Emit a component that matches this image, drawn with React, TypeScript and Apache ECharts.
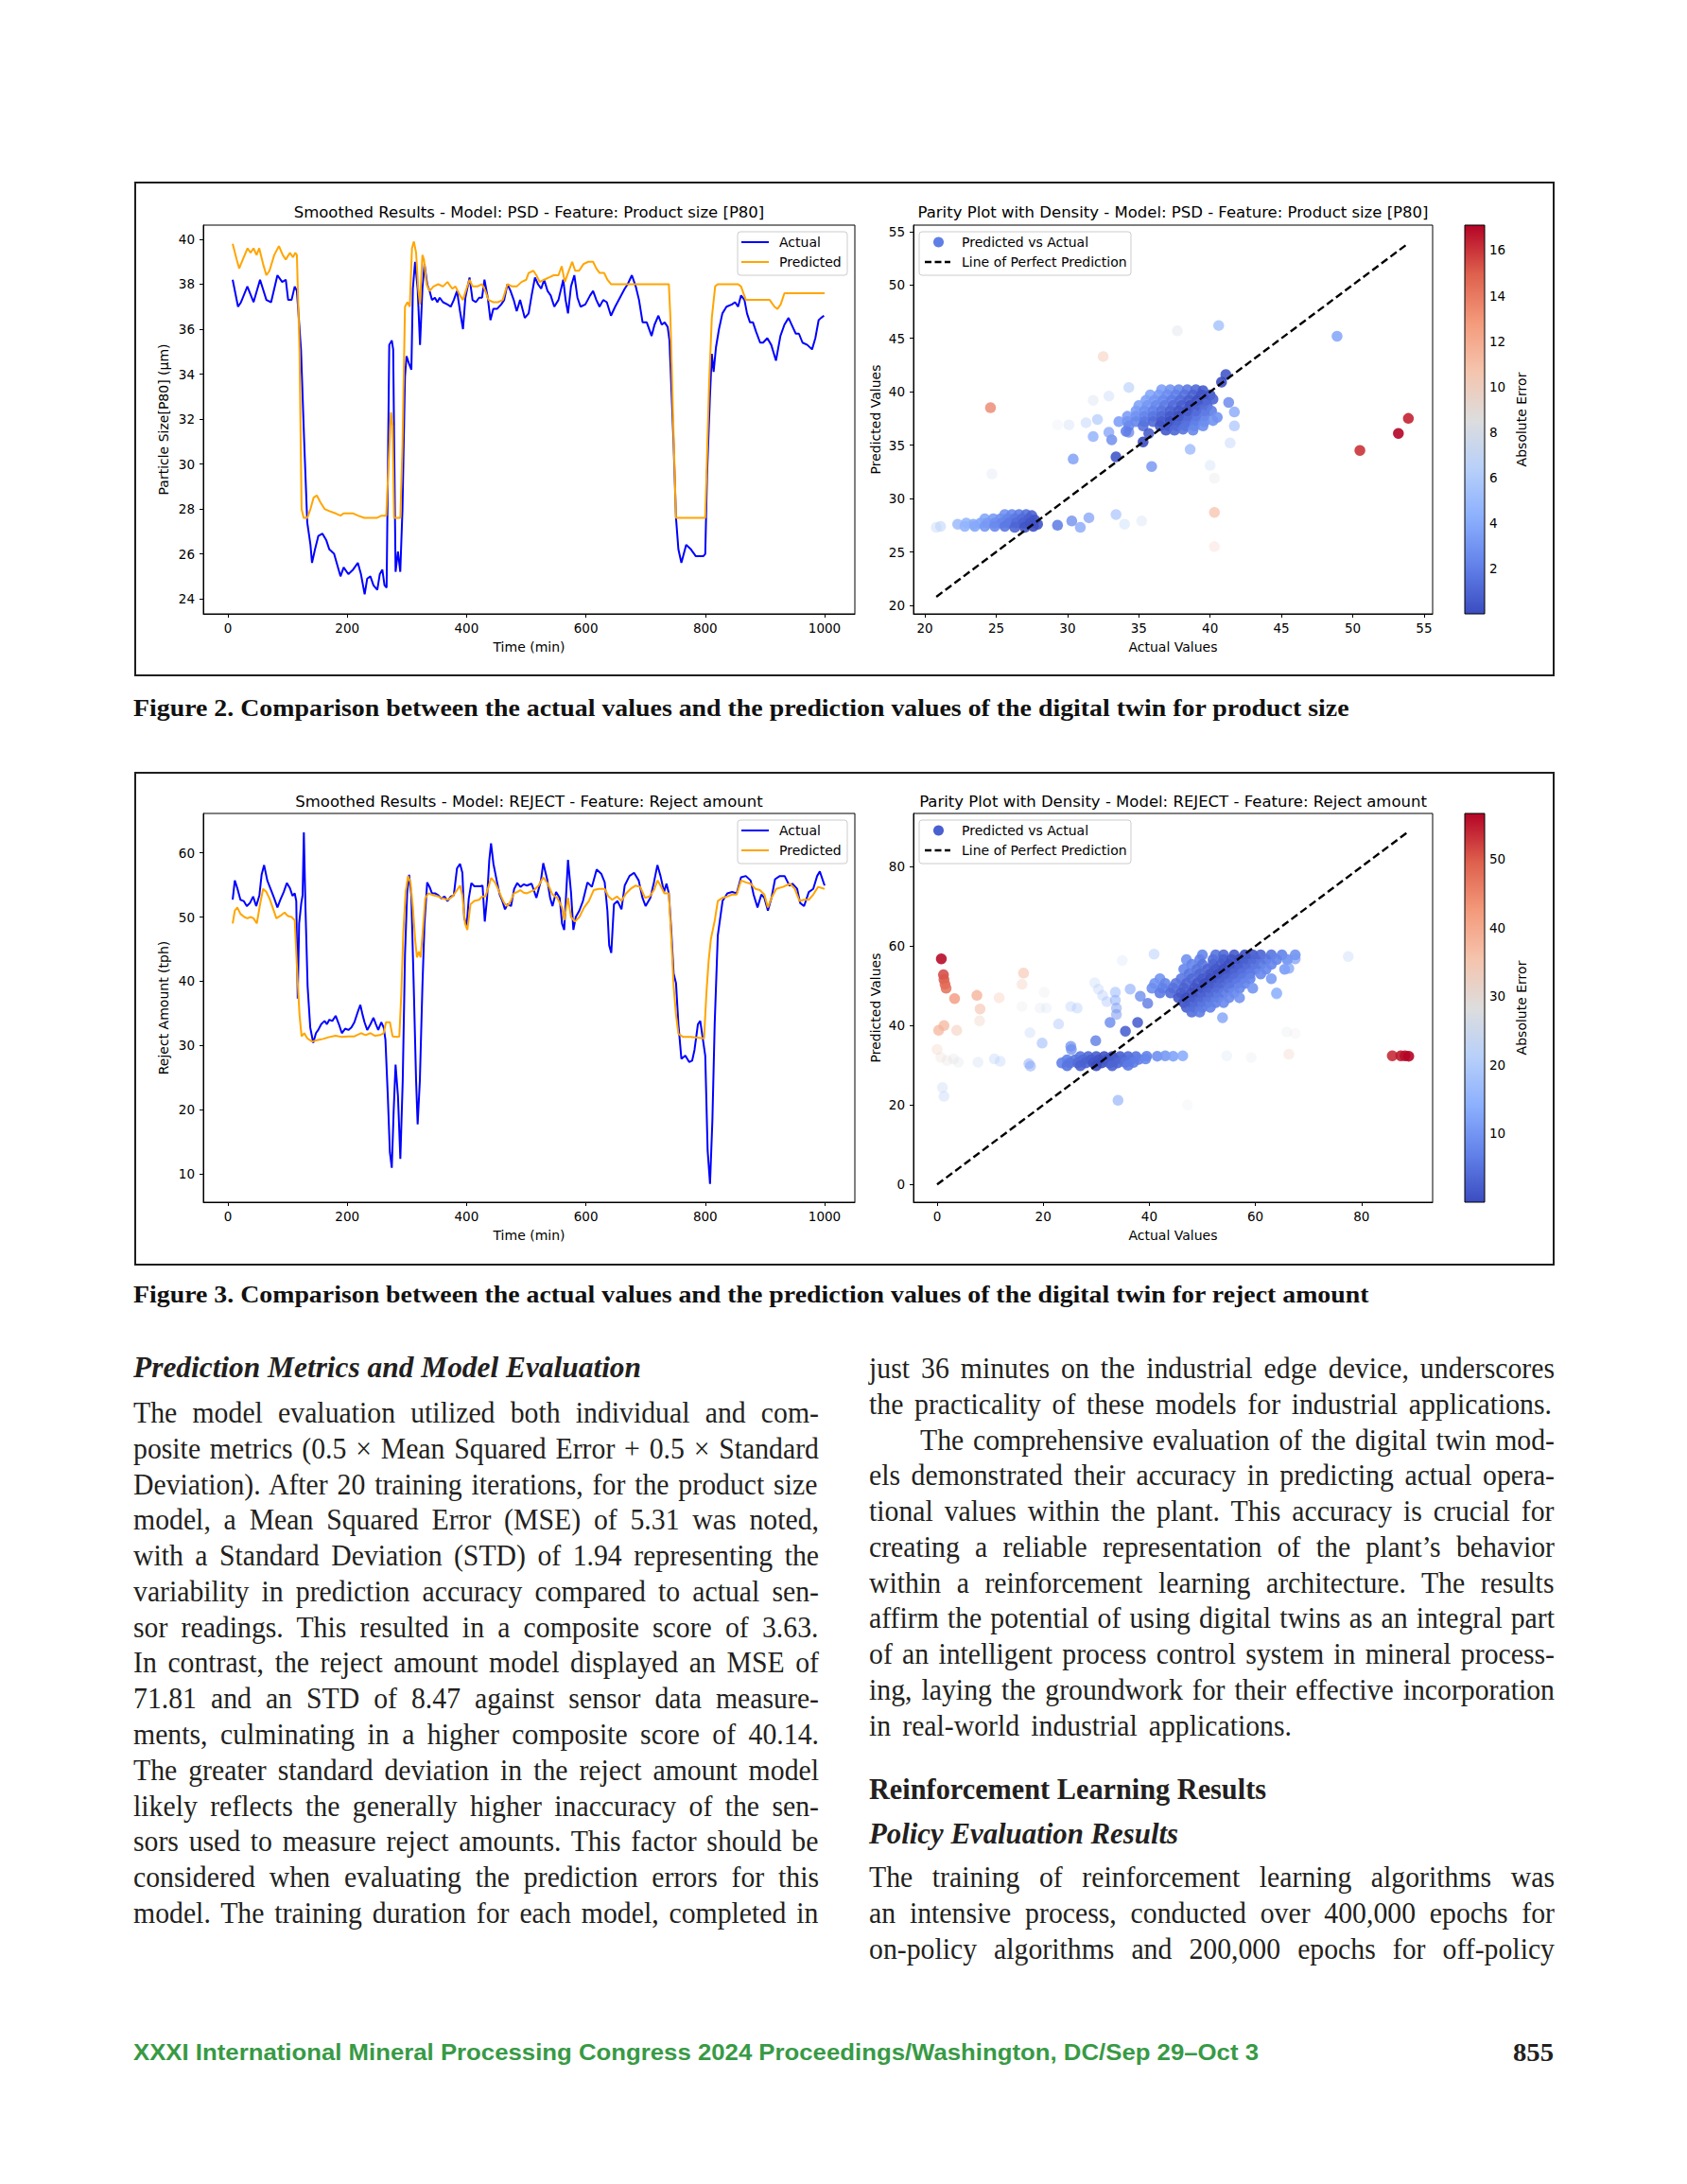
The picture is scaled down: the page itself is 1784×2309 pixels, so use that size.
import React, { useEffect, useRef } from 'react';
import * as echarts from 'echarts';

const FONT = 'DejaVu Sans';
const SERIF = '"Liberation Serif", "DejaVu Serif", serif';
const SANS = '"Liberation Sans", Arimo, sans-serif';
const COOLWARM = ['#3b4cc0', '#6282ea', '#8db0fe', '#b8d0f9', '#dddddd', '#f5c4ad', '#f49a7b', '#de604d', '#b40426'];

// ---------- tick labels ----------
const timeTicks = [0, 200, 400, 600, 800, 1000];
const psdYTicks = [24, 26, 28, 30, 32, 34, 36, 38, 40];
const psdParityTicks = [20, 25, 30, 35, 40, 45, 50, 55];
const psdErrTicks = [2, 4, 6, 8, 10, 12, 14, 16];
const rejectYTicks = [10, 20, 30, 40, 50, 60];
const rejectParityTicks = [0, 20, 40, 60, 80];
const rejectErrTicks = [10, 20, 30, 40, 50];

// ---------- Figure 2: product size (time, value) ----------
const psdActual = [
  [8, 38.2], [17, 37.0], [22, 37.2], [32.6, 37.9], [43, 37.2], [53.9, 38.2], [64.5, 37.3], [72.4, 37.2], [83, 38.4], [91, 38.1],
  [97, 38.2], [101, 37.3], [106.7, 37.3], [112, 37.9], [115.6, 37.7], [122.5, 35.1], [128, 30.9], [133, 27.4], [138.4, 26.4], [141, 25.6],
  [146, 26.2], [151.6, 26.8], [158.5, 26.9], [165, 26.6], [170, 26.2], [178, 26.0], [183.4, 25.5], [188.7, 25.0], [194, 25.4], [201.9, 25.1],
  [209.8, 25.3], [217.8, 25.6], [223, 25.1], [229.2, 24.2], [233.5, 24.9], [238.8, 25.0], [244, 24.6], [250.4, 24.4], [254.6, 25.1], [258.8, 25.3],
  [262.5, 24.6], [266, 24.5], [270.4, 35.3], [274.7, 35.5], [277, 35.1], [281, 25.2], [285, 26.1], [288.9, 25.2], [292.6, 28.0], [296.8, 33.9],
  [299.4, 34.8], [303, 34.5], [307.5, 34.2], [310, 37.8], [313.7, 39.0], [318, 37.8], [322, 35.3], [326, 37.8], [329.5, 38.9], [334, 38.0],
  [338, 37.7], [342, 37.3], [347, 37.4], [351, 37.2], [355, 37.4], [360.5, 37.2], [368, 37.1], [373.5, 37.0], [378.6, 37.3], [384, 37.7],
  [389, 36.8], [394, 36.0], [398, 37.4], [405, 38.3], [410, 37.3], [415.5, 37.2], [421, 37.4], [426, 37.4], [430, 38.2], [435.5, 37.4],
  [440, 36.4], [444.8, 36.9], [451, 36.9], [458, 37.1], [463, 37.3], [468.5, 38.0], [473.7, 37.7], [479, 37.3], [484, 36.8], [489.7, 37.3],
  [497.5, 36.5], [504, 36.7], [509, 37.5], [514.6, 38.3], [519.8, 38.0], [525, 37.8], [530, 38.2], [535.7, 37.7], [541, 37.5], [547, 37.0],
  [554, 37.3], [562, 38.2], [566, 37.3], [570, 36.7], [575, 37.9], [580.6, 38.4], [585.8, 37.4], [591, 37.0], [599, 37.1], [607, 37.5],
  [612, 37.7], [617.5, 37.3], [622.8, 37.0], [629, 37.3], [635, 37.2], [642, 36.6], [649, 37.0], [657, 37.4], [665, 37.8], [670, 38.0],
  [677, 38.4], [683.5, 37.9], [689, 37.3], [695, 36.3], [702, 36.3], [710, 35.7], [715, 36.2], [721.5, 36.6], [727, 36.2], [732, 36.3],
  [737, 36.1], [740, 35.5], [747, 30.9], [751, 27.6], [755, 26.2], [760, 25.6], [768, 26.4], [776, 26.2], [784, 25.9], [792, 25.9],
  [797, 25.9], [800, 26.0], [803, 29.5], [807.6, 32.8], [811, 34.9], [814, 34.1], [818, 35.2], [823, 36.0], [828.7, 36.7], [835.6, 37.0],
  [844.6, 37.1], [850, 37.2], [855, 37.0], [860, 37.5], [865.7, 37.3], [870, 36.7], [875, 36.3], [880, 36.3], [885, 35.9], [892, 35.4],
  [897, 35.4], [904, 35.6], [910.6, 35.3], [918.5, 34.6], [926, 35.7], [932.7, 36.2], [939.6, 36.5], [946.5, 36.1], [951.7, 35.8], [957, 35.8],
  [963, 35.4], [971, 35.3], [979, 35.1], [984.5, 35.6], [990, 36.4], [994, 36.5], [999, 36.6]
];
const psdPredicted = [
  [8, 39.8], [14.7, 39.1], [18.9, 38.7], [25, 39.1], [33, 39.6], [38, 39.4], [43, 39.6], [48, 39.3], [52.5, 39.6], [59, 38.9],
  [64.5, 38.4], [69.7, 38.6], [77.7, 39.3], [85.5, 39.7], [92, 39.3], [97, 39.1], [104, 39.4], [109, 39.2], [113, 39.4], [115.6, 39.3],
  [120, 35.1], [123.5, 28.0], [127, 27.6], [133, 27.6], [138.4, 28.0], [143.6, 28.5], [149, 28.6], [155, 28.3], [162, 28.0], [170, 27.9],
  [180.6, 27.8], [188.7, 27.7], [194, 27.8], [202, 27.8], [210, 27.8], [218, 27.7], [228.5, 27.6], [239, 27.6], [249.5, 27.6], [257.4, 27.7],
  [265.4, 27.7], [269.6, 30.2], [273.3, 32.3], [276, 31.7], [278.6, 27.6], [284, 27.6], [289, 27.6], [292.6, 30.8], [296.8, 37.0], [301, 37.2],
  [304.8, 37.0], [308.5, 39.6], [311.7, 39.9], [315.4, 39.4], [319, 37.8], [322, 37.1], [326, 39.3], [328.6, 39.1], [333, 38.0], [338, 37.7],
  [344.5, 37.9], [352.5, 38.0], [360.5, 37.9], [368, 38.1], [376, 37.8], [381.4, 37.9], [389, 37.5], [394, 37.3], [399.8, 37.8], [405, 38.2],
  [410, 37.9], [418, 37.9], [426, 38.0], [431.5, 37.7], [436.8, 37.3], [444.8, 37.2], [452.7, 37.2], [460.6, 37.3], [468.5, 38.0], [476.4, 37.9],
  [484, 37.9], [492, 38.1], [500, 38.2], [504, 38.5], [512, 38.6], [517, 38.4], [522.5, 38.1], [530, 38.2], [538, 38.3], [546, 38.4],
  [554, 38.4], [559.4, 38.8], [564.7, 38.1], [570, 38.5], [577, 39.0], [582, 38.6], [588.5, 38.6], [596, 38.9], [604, 39.0], [612, 39.0],
  [617.5, 38.7], [623, 38.5], [630.7, 38.5], [636, 38.2], [642, 38.0], [739, 38.0], [741.6, 36.5], [746, 32.2], [751, 27.6], [800, 27.6],
  [802, 29.4], [806.5, 33.6], [811, 36.5], [816.6, 37.9], [821, 38.0], [855, 38.0], [860, 37.9], [868, 37.3], [873.6, 37.3], [908, 37.3],
  [916, 37.0], [921, 36.9], [926.4, 37.1], [932.7, 37.6], [937, 37.6], [1000, 37.6]
];

// ---------- Figure 3: reject amount (time, value) ----------
const rejectActual = [
  [8, 52.7], [11.6, 55.7], [15.8, 54.5], [21, 52.7], [26.4, 52.5], [31.7, 51.7], [37, 52.2], [42.3, 53.2], [47.5, 51.7], [52.8, 53.4],
  [56.5, 56.6], [60.7, 58.1], [66, 55.7], [72.4, 54.2], [77.7, 52.9], [83, 51.5], [88, 52.7], [93.5, 53.9], [98.8, 55.3], [104, 54.5],
  [108.3, 53.3], [112, 53.7], [114.6, 52.5], [117, 37.3], [119.4, 49.0], [123, 52.2], [125.2, 53.4], [127.3, 63.2], [130, 51.5], [133.6, 39.2],
  [138, 32.8], [143, 30.4], [147.6, 31.9], [151.4, 32.4], [156.5, 33.3], [162, 33.8], [166, 33.3], [170, 34.0], [175, 33.8], [180.6, 34.6],
  [186, 33.3], [191, 31.9], [196.5, 32.6], [202, 32.4], [207, 32.8], [212, 33.6], [218, 35.3], [222, 36.3], [225.6, 34.8], [229, 33.6],
  [233.5, 32.4], [239, 33.3], [244, 34.3], [248, 33.3], [252, 32.4], [257, 33.6], [261, 32.8], [264, 30.9], [268, 22.1], [271.5, 13.3],
  [274.7, 10.9], [277.8, 19.7], [281, 27.0], [285, 22.1], [289, 12.3], [293, 24.5], [296.8, 44.1], [300.5, 53.9], [303.7, 56.6], [307.4, 53.4],
  [311.6, 38.7], [315.4, 24.5], [318, 17.7], [321.7, 24.5], [326, 39.2], [329.5, 49.0], [334, 55.4], [338, 54.7], [342, 53.7], [347, 53.7],
  [352.5, 53.4], [357.6, 52.9], [363, 53.2], [368, 52.5], [373.5, 53.2], [378.6, 53.4], [384, 57.6], [389, 58.3], [393, 56.9], [396, 50.0],
  [400, 48.5], [403.7, 52.9], [408, 55.3], [413, 54.8], [418, 54.8], [423, 54.8], [426.8, 54.9], [430.5, 49.3], [434.3, 52.9], [438, 58.8],
  [441, 61.5], [445, 58.3], [450.5, 55.7], [455.8, 53.4], [460, 52.5], [464.4, 51.2], [469, 52.0], [474.5, 51.7], [479.8, 54.4], [485, 55.3],
  [490.4, 54.7], [495.6, 55.1], [501, 54.9], [509, 55.2], [517, 53.0], [524.6, 55.7], [528.5, 58.4], [535, 55.9], [540, 53.0], [544, 51.7],
  [550, 53.9], [556, 53.0], [560, 49.0], [563.6, 48.0], [570, 58.9], [575, 53.9], [579, 48.0], [583, 50.0], [589, 51.0], [595, 52.5],
  [602.6, 55.4], [610, 54.7], [618, 57.4], [626, 56.7], [631.5, 55.4], [636, 51.0], [639, 45.6], [642.5, 44.4], [647, 52.0], [653, 52.5],
  [659.6, 51.2], [665, 54.9], [673, 56.4], [680.7, 56.9], [688.5, 55.7], [694.8, 53.0], [700, 51.7], [708, 53.0], [714, 55.4], [719.8, 58.1],
  [725, 56.4], [731, 53.9], [735, 55.2], [739, 53.7], [743, 48.0], [747, 41.2], [751, 39.7], [755, 33.3], [760, 27.9], [766.6, 28.4],
  [773, 27.4], [778, 27.6], [782, 29.3], [787.7, 33.3], [791.6, 33.8], [795.5, 31.3], [800, 28.4], [804, 13.6], [808, 8.4], [812, 18.4],
  [815.8, 33.3], [821, 47.1], [829, 52.5], [837, 53.7], [845, 53.9], [852.6, 53.7], [860, 56.2], [868, 56.4], [876, 55.7], [881, 53.5],
  [887.6, 51.5], [894, 53.5], [899, 53.0], [905, 51.0], [911, 53.0], [917, 55.9], [925, 56.4], [933, 56.4], [941, 54.9], [946, 55.2],
  [954, 54.4], [959, 52.2], [965.6, 51.7], [973.5, 53.9], [981, 54.4], [987.5, 56.4], [992, 57.1], [1000, 54.9]
];
const rejectPredicted = [
  [8, 49.0], [11.6, 51.0], [15.8, 51.5], [21, 50.5], [27.5, 50.0], [32.8, 49.8], [38, 50.0], [43, 49.8], [48.5, 49.0], [53.9, 52.0],
  [59, 54.4], [64.5, 53.9], [69.7, 52.9], [75, 51.5], [81.3, 49.8], [88, 50.2], [95, 50.7], [100, 50.2], [106.7, 50.0], [112, 49.5],
  [116, 41.7], [120, 34.8], [123.5, 31.4], [128, 31.9], [133, 31.1], [141, 30.6], [149, 30.8], [159.5, 31.0], [170, 31.3], [180.6, 31.5],
  [191, 31.3], [202, 31.4], [212, 31.4], [223, 31.9], [230.8, 31.6], [239, 31.9], [246.7, 31.5], [254.6, 31.6], [261, 31.9], [265, 33.6],
  [271.5, 33.6], [276, 31.4], [284, 31.3], [287.3, 31.4], [290.5, 37.8], [294, 47.6], [297.9, 53.9], [302, 56.4], [306, 55.4], [310, 51.5],
  [313.7, 46.6], [316.8, 43.7], [320, 44.6], [323, 43.7], [326.5, 47.6], [330.8, 52.9], [336, 53.7], [344.5, 53.4], [352.5, 53.2], [360.5, 52.9],
  [368.5, 52.7], [376.4, 53.2], [384, 54.2], [389, 54.9], [393, 53.4], [397.5, 49.0], [401.3, 48.0], [406.6, 52.0], [413, 52.5], [421, 52.7],
  [426, 53.2], [431.5, 53.2], [436.8, 54.7], [441, 56.1], [447.5, 55.4], [452.7, 54.4], [458, 53.2], [463, 52.2], [468.5, 51.7], [474, 52.5],
  [479.4, 53.7], [484.6, 53.9], [490, 54.2], [495.6, 53.8], [501, 53.7], [513, 54.2], [520.7, 54.9], [528.5, 56.2], [536, 55.2], [544, 53.5],
  [552, 53.0], [560, 51.5], [563.6, 49.5], [570, 53.0], [575, 50.0], [581.6, 49.3], [589, 50.0], [597, 51.5], [605, 52.5], [613, 54.2],
  [622, 54.4], [631.5, 54.4], [637.8, 53.2], [644, 52.7], [652, 53.2], [659.6, 52.5], [667.4, 53.7], [675, 54.4], [683, 54.9], [691, 54.7],
  [699, 53.0], [706.6, 53.2], [714, 54.2], [720, 55.7], [725, 54.9], [731.6, 53.7], [739, 53.7], [744, 45.1], [747, 39.2], [751, 34.8],
  [755, 31.8], [763, 31.3], [775, 31.3], [786, 31.2], [798, 31.1], [802, 38.2], [805.6, 43.1], [809.5, 46.6], [816, 49.5], [821, 52.5],
  [829, 53.0], [837, 53.2], [845, 53.5], [852.6, 53.5], [860, 55.7], [868, 55.4], [876, 55.2], [884, 54.4], [891.5, 54.2], [899, 53.5],
  [905, 51.5], [911, 53.0], [919, 54.4], [930.5, 54.7], [942, 55.2], [950, 54.4], [958, 52.5], [965.6, 52.7], [973.5, 52.7], [981, 53.5],
  [989, 54.7], [1000, 54.4]
];

// ---------- Parity points: [actual, predicted] (dense) and [actual, predicted, density] (sparse) ----------
const psdParityDense = [
  [36.6, 40.2], [37.2, 40.2], [37.8, 40.2], [38.4, 40.2], [39.0, 40.2], [39.5, 40.1],
  [35.8, 39.7], [36.4, 39.7], [37.0, 39.7], [37.6, 39.7], [38.2, 39.7], [38.8, 39.7], [39.4, 39.7], [40.0, 39.7],
  [35.5, 39.2], [36.1, 39.2], [36.7, 39.2], [37.3, 39.2], [37.9, 39.2], [38.5, 39.2], [39.1, 39.2], [39.7, 39.2], [40.2, 39.3],
  [35.0, 38.7], [35.6, 38.7], [36.2, 38.7], [36.8, 38.7], [37.4, 38.7], [38.0, 38.7], [38.6, 38.7], [39.2, 38.7], [39.8, 38.7],
  [34.8, 38.2], [35.4, 38.2], [36.0, 38.2], [36.6, 38.2], [37.2, 38.2], [37.8, 38.2], [38.4, 38.2], [39.0, 38.2], [39.6, 38.2], [40.1, 38.2],
  [34.2, 37.7], [34.8, 37.7], [35.4, 37.7], [36.0, 37.7], [36.6, 37.7], [37.2, 37.7], [37.8, 37.7], [38.4, 37.7], [39.0, 37.7], [39.6, 37.7],
  [33.6, 37.2], [34.2, 37.2], [34.8, 37.2], [35.4, 37.2], [36.0, 37.2], [36.6, 37.2], [37.2, 37.2], [37.8, 37.2], [38.4, 37.2], [39.0, 37.2], [39.6, 37.2], [40.2, 37.3],
  [34.3, 36.8], [35.3, 36.8], [36.5, 36.8], [37.1, 36.8], [37.7, 36.8], [38.3, 36.8], [38.9, 36.8], [39.5, 36.8],
  [34.1, 36.3], [36.9, 36.4], [37.5, 36.4], [38.1, 36.5], [38.8, 36.4],
  [25.6, 28.5], [26.1, 28.5], [26.6, 28.5], [27.1, 28.5], [27.5, 28.4],
  [24.2, 28.1], [24.8, 28.1], [25.3, 28.1], [25.8, 28.1], [26.3, 28.1], [26.8, 28.1], [27.3, 28.1], [27.7, 28.0],
  [22.3, 27.6], [22.9, 27.7], [23.4, 27.6], [23.9, 27.7], [24.4, 27.7], [24.9, 27.7], [25.4, 27.7], [25.9, 27.7], [26.4, 27.7], [26.9, 27.7], [27.4, 27.7], [27.9, 27.6],
  [22.8, 27.4], [23.5, 27.4], [24.2, 27.4], [24.9, 27.4], [25.6, 27.4], [26.3, 27.3], [27.0, 27.3], [27.6, 27.4]
];
const psdParitySparse = [
  [40.6, 46.2, 0.85], [48.9, 45.2, 0.85], [50.5, 34.5, 0.9], [53.2, 36.1, 0.9], [53.9, 37.5, 0.9], [24.6, 38.5, 0.75],
  [32.5, 43.3, 0.45], [37.7, 45.7, 0.35], [41.1, 41.6, 0.9], [24.7, 32.3, 0.25], [40.0, 33.1, 0.3], [40.3, 31.9, 0.25],
  [40.3, 28.7, 0.6], [40.3, 25.5, 0.1], [33.4, 28.5, 0.6], [34.0, 27.6, 0.35], [35.2, 27.9, 0.3], [38.6, 34.6, 0.65],
  [41.7, 38.1, 0.75], [41.7, 36.8, 0.6], [41.4, 35.2, 0.4], [30.4, 33.7, 0.8], [33.4, 33.9, 0.9], [35.9, 33.0, 0.8],
  [31.8, 35.8, 0.75], [33.1, 35.5, 0.8], [35.3, 35.3, 0.9], [35.7, 36.1, 0.85], [30.1, 36.9, 0.3], [31.3, 37.1, 0.4],
  [32.1, 37.4, 0.6], [31.8, 39.2, 0.3], [32.9, 39.6, 0.35], [34.3, 40.4, 0.6], [32.9, 36.2, 0.7], [34.3, 36.2, 0.7],
  [29.3, 27.5, 0.85], [30.3, 27.9, 0.75], [30.9, 27.3, 0.75], [31.5, 28.2, 0.7], [21.1, 27.4, 0.5], [20.8, 27.3, 0.4],
  [29.3, 36.9, 0.15], [40.8, 40.9, 0.9], [41.3, 39.0, 0.8], [40.5, 37.6, 0.9]
];
const rejectParityDense = [
  [27, 32.2], [28.5, 32.2], [30, 32.2], [31.5, 32.2], [33, 32.2], [34.5, 32.2], [36, 32.2], [37.5, 32.2], [39.5, 32.3], [41.5, 32.3], [43, 32.4], [44.5, 32.3], [46.3, 32.4],
  [24.5, 31.4], [26, 31.4], [27.5, 31.4], [29, 31.4], [30.5, 31.4], [32, 31.4], [33.5, 31.4], [35, 31.4], [36.5, 31.4], [38, 31.5], [39.3, 31.6],
  [23.5, 30.6], [25, 30.6], [26.5, 30.6], [28, 30.6], [29.5, 30.6], [31, 30.6], [32.5, 30.6], [34, 30.6], [35.5, 30.7], [37, 30.7],
  [24.5, 29.9], [27, 29.9], [30, 29.9], [33, 29.9], [36, 30.0],
  [50, 57.8], [52.5, 57.8], [54, 57.8], [56, 57.8], [58, 57.8], [59.5, 57.8], [61, 57.8], [63, 57.8], [65, 57.8], [67.5, 57.8],
  [47, 56.6], [49.5, 56.6], [52, 56.6], [54, 56.6], [55.5, 56.6], [57, 56.6], [58.5, 56.6], [60, 56.6], [62, 56.6], [64, 56.6], [66, 56.6],
  [48, 55.4], [50, 55.4], [52, 55.4], [53.5, 55.4], [55, 55.4], [56.5, 55.4], [58, 55.4], [59.5, 55.4], [61, 55.4], [63, 55.4],
  [46.5, 54.2], [49, 54.2], [51, 54.2], [52.5, 54.2], [54, 54.2], [55.5, 54.2], [57, 54.2], [58.5, 54.2], [60, 54.2], [62, 54.2], [65.5, 54.2],
  [47.5, 53.0], [49.5, 53.0], [51.5, 53.0], [53, 53.0], [54.5, 53.0], [56, 53.0], [57.5, 53.0], [59, 53.0], [61, 53.0],
  [42, 51.8], [46, 51.8], [48, 51.8], [50, 51.8], [51.5, 51.8], [53, 51.8], [54.5, 51.8], [56, 51.8], [57.5, 51.8], [59, 51.8], [63, 51.8],
  [41, 50.6], [43, 50.6], [45, 50.6], [47, 50.6], [49, 50.6], [50.5, 50.6], [52, 50.6], [53.5, 50.6], [55, 50.6], [56.5, 50.6], [58, 50.6],
  [40.5, 49.4], [42.5, 49.4], [44.5, 49.4], [46.5, 49.4], [48.5, 49.4], [50, 49.4], [51.5, 49.4], [53, 49.4], [55, 49.4], [57, 49.4], [59.5, 49.4],
  [42, 48.2], [44, 48.2], [46, 48.2], [48, 48.2], [49.5, 48.2], [51, 48.2], [52.5, 48.2], [54, 48.2], [56, 48.2], [64, 48.2],
  [45.5, 47.0], [47, 47.0], [48.5, 47.0], [50, 47.0], [51.5, 47.0], [53, 47.0], [55, 47.0], [57, 47.0],
  [46.5, 45.8], [48, 45.8], [49.5, 45.8], [51, 45.8], [52.5, 45.8], [54, 45.8],
  [47, 44.6], [48.5, 44.6], [50, 44.6], [51.5, 44.6], [48, 43.4], [49.5, 43.4]
];
const rejectParitySparse = [
  [0.8, 56.8, 0.9], [1.2, 52.8, 0.85], [1.3, 51.6, 0.85], [1.5, 50.4, 0.85], [1.7, 49.4, 0.85], [3.3, 46.8, 0.75], [7.5, 47.6, 0.7],
  [8.1, 44.2, 0.6], [8.0, 41.2, 0.35], [11.7, 47.0, 0.35], [16.3, 53.2, 0.55], [16.0, 50.4, 0.35], [16.0, 44.8, 0.2], [20.2, 48.4, 0.2],
  [19.4, 44.4, 0.2], [20.6, 44.4, 0.2], [0.3, 38.8, 0.7], [1.3, 40.0, 0.7], [3.7, 38.8, 0.5], [0.0, 34.0, 0.3], [0.7, 32.0, 0.25],
  [1.9, 31.2, 0.25], [3.1, 31.6, 0.25], [4.0, 30.8, 0.25], [1.0, 24.4, 0.35], [1.3, 22.2, 0.35], [7.7, 30.8, 0.3], [10.8, 31.6, 0.35],
  [11.9, 31.0, 0.3], [17.3, 30.4, 0.5], [17.6, 29.8, 0.5], [17.5, 38.2, 0.3], [19.8, 35.6, 0.55], [22.9, 40.4, 0.4], [25.2, 44.8, 0.35],
  [26.4, 44.4, 0.35], [25.2, 34.8, 0.75], [25.3, 34.0, 0.75], [29.9, 36.2, 0.8], [29.7, 50.8, 0.3], [30.4, 49.2, 0.3], [31.2, 47.6, 0.3],
  [32.0, 46.0, 0.3], [33.6, 48.4, 0.5], [33.6, 46.4, 0.5], [33.8, 44.4, 0.5], [33.8, 42.8, 0.5], [32.6, 40.8, 0.8], [34.9, 56.4, 0.2],
  [35.5, 38.6, 0.9], [37.8, 40.8, 0.9], [36.4, 49.2, 0.6], [38.3, 47.4, 0.8], [40.9, 58.0, 0.4], [39.7, 45.6, 0.8], [34.1, 21.2, 0.6],
  [47.2, 20.0, 0.15], [53.8, 42.0, 0.8], [54.6, 32.4, 0.2], [59.2, 32.0, 0.2], [66.3, 32.8, 0.3], [65.9, 38.4, 0.2], [67.5, 38.0, 0.15],
  [77.5, 57.4, 0.3], [85.8, 32.4, 0.9], [87.4, 32.4, 0.9], [88.2, 32.4, 0.9], [88.9, 32.3, 0.9], [64.0, 48.0, 0.75], [67.5, 56.8, 0.7],
  [66.3, 54.4, 0.75]
];

// ---------- chart builder ----------
const axisBase = {
  type: 'value',
  splitLine: { show: false },
  axisLine: { show: true, onZero: false, lineStyle: { color: '#000', width: 1 } },
  axisTick: { show: true, length: 4, lineStyle: { color: '#000', width: 1 } },
  nameTextStyle: { color: '#000', fontSize: 14, fontFamily: FONT },
  nameLocation: 'middle',
  nameMoveOverlap: false,
};

function ticksAxis(extra: any, ticks: number[], margin: number) {
  return {
    ...axisBase,
    ...extra,
    axisTick: { ...axisBase.axisTick, customValues: ticks },
    axisLabel: {
      customValues: ticks, color: '#000', fontSize: 13.5, fontFamily: FONT, margin,
      formatter: (v: number) => String(v),
    },
  };
}

function buildOption(f: any) {
  const T = f.gridTop;
  const g1 = { left: 74, top: T, width: 689, height: 411 };
  const g2 = { left: 825, top: T, width: 549, height: 411 };
  const g3 = { left: 1408, top: T, width: 21, height: 411 };
  const pts = [...f.dense.map((p: number[]) => [p[0], p[1], 0.9]), ...f.sparse];
  const scatter = pts.map((p: number[]) => ({ value: [p[0], p[1], Math.abs(p[1] - p[0])], itemStyle: { opacity: p[2] } }));
  const maxErr = Math.max(...scatter.map((d: any) => d.value[2]));
  const acts = pts.map((p: number[]) => p[0]);
  const mn = Math.min(...acts);
  const mx = Math.max(...acts);
  const txt = (text: string, x: number, y: number, size: number, extra: any = {}) => ({
    type: 'text', x, y, z: 100, ...extra,
    style: { text, fill: '#000', fontSize: size, fontFamily: FONT, align: extra.align || 'center', verticalAlign: 'middle' },
  });
  const r1 = T + 18;
  const r2 = T + 39;
  return {
    animation: false,
    backgroundColor: '#fff',
    grid: [
      { ...g1, show: true, borderColor: '#000', borderWidth: 1, outerBoundsMode: 'none' },
      { ...g2, show: true, borderColor: '#000', borderWidth: 1, outerBoundsMode: 'none' },
      { ...g3, show: false, outerBoundsMode: 'none' },
    ],
    xAxis: [
      ticksAxis({ gridIndex: 0, min: -41.2, max: 1050.7, name: 'Time (min)', nameGap: 28 }, timeTicks, 8),
      ticksAxis({ gridIndex: 1, min: f.pMin, max: f.pMax, name: 'Actual Values', nameGap: 28 }, f.pTicks, 8),
      { gridIndex: 2, type: 'value', min: 0, max: 1, show: false },
    ],
    yAxis: [
      ticksAxis({ gridIndex: 0, min: f.yMin, max: f.yMax, name: f.yName, nameGap: 35 }, f.yTicks, 9),
      ticksAxis({ gridIndex: 1, min: f.pMin, max: f.pMax, name: 'Predicted Values', nameGap: 33 }, f.pTicks, 9),
      {
        ...ticksAxis({ gridIndex: 2, min: 0, max: maxErr, position: 'right' }, f.errTicks, 5),
        axisLine: { show: false },
      },
    ],
    visualMap: [{
      type: 'continuous', show: false, seriesIndex: 2, dimension: 2, min: 0, max: maxErr,
      inRange: { color: COOLWARM },
    }],
    series: [
      {
        name: 'Actual', type: 'line', xAxisIndex: 0, yAxisIndex: 0, data: f.actual, symbol: 'none', showSymbol: false,
        lineStyle: { color: '#0000ff', width: 2 }, itemStyle: { color: '#0000ff' }, z: 2, silent: true,
      },
      {
        name: 'Predicted', type: 'line', xAxisIndex: 0, yAxisIndex: 0, data: f.predicted, symbol: 'none', showSymbol: false,
        lineStyle: { color: '#ffa500', width: 2 }, itemStyle: { color: '#ffa500' }, z: 3, silent: true,
      },
      {
        name: 'Predicted vs Actual', type: 'scatter', xAxisIndex: 1, yAxisIndex: 1, data: scatter, symbol: 'circle',
        symbolSize: 11.5, z: 3, silent: true,
      },
      {
        name: 'Line of Perfect Prediction', type: 'line', xAxisIndex: 1, yAxisIndex: 1, data: [[mn, mn], [mx, mx]],
        symbol: 'none', showSymbol: false, lineStyle: { color: '#000', width: 2.4, type: [8, 4] }, z: 5, silent: true,
      },
    ],
    graphic: [
      txt(f.lineTitle, g1.left + g1.width / 2, f.titleY, 16.5),
      txt(f.parityTitle, g2.left + g2.width / 2, f.titleY, 16.5),
      // line legend
      { type: 'rect', z: 100, shape: { x: 639, y: T + 7, width: 116, height: 46, r: 3 }, style: { fill: 'rgba(255,255,255,0.8)', stroke: '#cccccc', lineWidth: 1 } },
      { type: 'line', z: 101, shape: { x1: 643, y1: r1, x2: 672, y2: r1 }, style: { stroke: '#0000ff', lineWidth: 2 } },
      txt('Actual', 683, r1, 14, { align: 'left' }),
      { type: 'line', z: 101, shape: { x1: 643, y1: r2, x2: 672, y2: r2 }, style: { stroke: '#ffa500', lineWidth: 2 } },
      txt('Predicted', 683, r2, 14, { align: 'left' }),
      // parity legend
      { type: 'rect', z: 100, shape: { x: 831, y: T + 7, width: 224, height: 46, r: 3 }, style: { fill: 'rgba(255,255,255,0.8)', stroke: '#cccccc', lineWidth: 1 } },
      { type: 'circle', z: 101, shape: { cx: 851.5, cy: r1, r: 5.5 }, style: { fill: f.dotColor } },
      txt('Predicted vs Actual', 876, r1, 14, { align: 'left' }),
      { type: 'line', z: 101, shape: { x1: 837, y1: r2, x2: 864, y2: r2 }, style: { stroke: '#000', lineWidth: 2.4, lineDash: [7, 3.5] } },
      txt('Line of Perfect Prediction', 876, r2, 14, { align: 'left' }),
      // colorbar
      {
        type: 'rect', z: 50, shape: { x: g3.left, y: T, width: g3.width, height: g3.height },
        style: {
          fill: new echarts.graphic.LinearGradient(0, 1, 0, 0, COOLWARM.map((c, i) => ({ offset: i / (COOLWARM.length - 1), color: c }))),
          stroke: '#000', lineWidth: 1,
        },
      },
      txt('Absolute Error', 1467.6, T + 205.5, 14, { rotation: Math.PI / 2 }),
    ],
  };
}

const fig2Option = buildOption({
  gridTop: 47, titleY: 33,
  lineTitle: 'Smoothed Results - Model: PSD - Feature: Product size [P80]',
  parityTitle: 'Parity Plot with Density - Model: PSD - Feature: Product size [P80]',
  yName: 'Particle Size[P80] (μm)', yMin: 23.33, yMax: 40.63, yTicks: psdYTicks,
  actual: psdActual, predicted: psdPredicted,
  dense: psdParityDense, sparse: psdParitySparse,
  pMin: 19.2, pMax: 55.6, pTicks: psdParityTicks, errTicks: psdErrTicks, dotColor: '#5f7fe6',
});
const fig3Option = buildOption({
  gridTop: 45, titleY: 32,
  lineTitle: 'Smoothed Results - Model: REJECT - Feature: Reject amount',
  parityTitle: 'Parity Plot with Density - Model: REJECT - Feature: Reject amount',
  yName: 'Reject Amount (tph)', yMin: 5.55, yMax: 66.15, yTicks: rejectYTicks,
  actual: rejectActual, predicted: rejectPredicted,
  dense: rejectParityDense, sparse: rejectParitySparse,
  pMin: -4.45, pMax: 93.4, pTicks: rejectParityTicks, errTicks: rejectErrTicks, dotColor: '#4a5fd0',
});

function FigureChart({ option, left, top, width, height }: any) {
  const ref = useRef<HTMLDivElement>(null);
  useEffect(() => {
    const chart = echarts.init(ref.current!, null, { renderer: 'svg' });
    chart.setOption(option);
    return () => chart.dispose();
  }, []);
  return <div ref={ref} style={{ position: 'absolute', left, top, width, height }} />;
}

// ---------- text ----------
const measureCtx = document.createElement('canvas').getContext('2d')!;

function TextLine({ text, x, base, width, size, family = SERIF, weight = 'normal', italic = false, color = '#231f20', mode = 'justify', sx = 0.96 }: any) {
  const font = `${italic ? 'italic ' : ''}${weight} ${size}px ${family}`;
  measureCtx.font = font;
  const m = measureCtx.measureText(text);
  const w = m.width || 1;
  const A = (m as any).fontBoundingBoxAscent ?? size * 0.891;
  const D = (m as any).fontBoundingBoxDescent ?? size * 0.216;
  const L = size;
  const top = base - (L + A - D) / 2;
  let scale = 1;
  let ws = 0;
  if (mode === 'fit') scale = width / w;
  else {
    const spaces = (text.match(/ /g) || []).length;
    if (w * sx <= width && spaces) { scale = sx; ws = (width / sx - w) / spaces; } else scale = width / w;
  }
  return (
    <div style={{
      position: 'absolute', left: x, top, fontFamily: family, fontSize: size, fontWeight: weight as any,
      fontStyle: italic ? 'italic' : 'normal', lineHeight: `${L}px`, whiteSpace: 'pre', color,
      wordSpacing: `${ws}px`, transform: `scaleX(${scale})`, transformOrigin: '0 0',
    }}>{text}</div>
  );
}

const leftColumnLines = [
  'The model evaluation utilized both individual and com-',
  'posite metrics (0.5 × Mean Squared Error + 0.5 × Standard',
  'Deviation). After 20 training iterations, for the product size',
  'model, a Mean Squared Error (MSE) of 5.31 was noted,',
  'with a Standard Deviation (STD) of 1.94 representing the',
  'variability in prediction accuracy compared to actual sen-',
  'sor readings. This resulted in a composite score of 3.63.',
  'In contrast, the reject amount model displayed an MSE of',
  '71.81 and an STD of 8.47 against sensor data measure-',
  'ments, culminating in a higher composite score of 40.14.',
  'The greater standard deviation in the reject amount model',
  'likely reflects the generally higher inaccuracy of the sen-',
  'sors used to measure reject amounts. This factor should be',
  'considered when evaluating the prediction errors for this',
  'model. The training duration for each model, completed in',
];
const rightColumnLines = [
  { t: 'just 36 minutes on the industrial edge device, underscores', x: 919, w: 725 },
  { t: 'the practicality of these models for industrial applications.', x: 919, w: 722 },
  { t: 'The comprehensive evaluation of the digital twin mod-', x: 973, w: 671 },
  { t: 'els demonstrated their accuracy in predicting actual opera-', x: 919, w: 725 },
  { t: 'tional values within the plant. This accuracy is crucial for', x: 919, w: 725 },
  { t: 'creating a reliable representation of the plant’s behavior', x: 919, w: 725 },
  { t: 'within a reinforcement learning architecture. The results', x: 919, w: 725 },
  { t: 'affirm the potential of using digital twins as an integral part', x: 919, w: 725 },
  { t: 'of an intelligent process control system in mineral process-', x: 919, w: 725 },
  { t: 'ing, laying the groundwork for their effective incorporation', x: 919, w: 725 },
  { t: 'in real-world industrial applications.', x: 919, w: 447 },
];
const lastParagraphLines = [
  'The training of reinforcement learning algorithms was',
  'an intensive process, conducted over 400,000 epochs for',
  'on-policy algorithms and 200,000 epochs for off-policy',
];

const LH = 37.78;
const BODY = 31;

export default function App() {
  return (
    <div style={{ position: 'absolute', left: 0, top: 0, width: 1784, height: 2309, background: '#fff', overflow: 'hidden' }}>
      <FigureChart option={fig2Option} left={141} top={191} width={1503} height={525} />
      <div style={{ position: 'absolute', left: 142, top: 192, width: 1502, height: 523, border: '2px solid #1e1e1e', boxSizing: 'border-box', pointerEvents: 'none' }} />
      <TextLine text="Figure 2. Comparison between the actual values and the prediction values of the digital twin for product size"
        x={141} base={757} width={1286} size={25} weight="bold" color="#111" mode="fit" />

      <FigureChart option={fig3Option} left={141} top={815} width={1503} height={525} />
      <div style={{ position: 'absolute', left: 142, top: 816, width: 1502, height: 522, border: '2px solid #1e1e1e', boxSizing: 'border-box', pointerEvents: 'none' }} />
      <TextLine text="Figure 3. Comparison between the actual values and the prediction values of the digital twin for reject amount"
        x={141} base={1377} width={1307} size={25} weight="bold" color="#111" mode="fit" />

      <TextLine text="Prediction Metrics and Model Evaluation" x={141} base={1456} width={537} size={BODY} weight="bold" italic mode="fit" />
      {leftColumnLines.map((t, i) => (
        <TextLine key={'l' + i} text={t} x={141} base={1504 + i * LH} width={725} size={BODY} />
      ))}
      {rightColumnLines.map((l, i) => (
        <TextLine key={'r' + i} text={l.t} x={l.x} base={1457 + i * LH} width={l.w} size={BODY} />
      ))}
      <TextLine text="Reinforcement Learning Results" x={919} base={1902} width={420} size={BODY} weight="bold" mode="fit" />
      <TextLine text="Policy Evaluation Results" x={919} base={1949} width={327} size={BODY} weight="bold" italic mode="fit" />
      {lastParagraphLines.map((t, i) => (
        <TextLine key={'p' + i} text={t} x={919} base={1995 + i * LH} width={725} size={BODY} />
      ))}

      <TextLine text="XXXI International Mineral Processing Congress 2024 Proceedings/Washington, DC/Sep 29–Oct 3"
        x={141} base={2179} width={1190} size={23.5} family={SANS} weight="bold" color="#379a45" mode="fit" />
      <TextLine text="855" x={1600} base={2179} width={43} size={27} weight="bold" color="#231f20" mode="fit" />
    </div>
  );
}
